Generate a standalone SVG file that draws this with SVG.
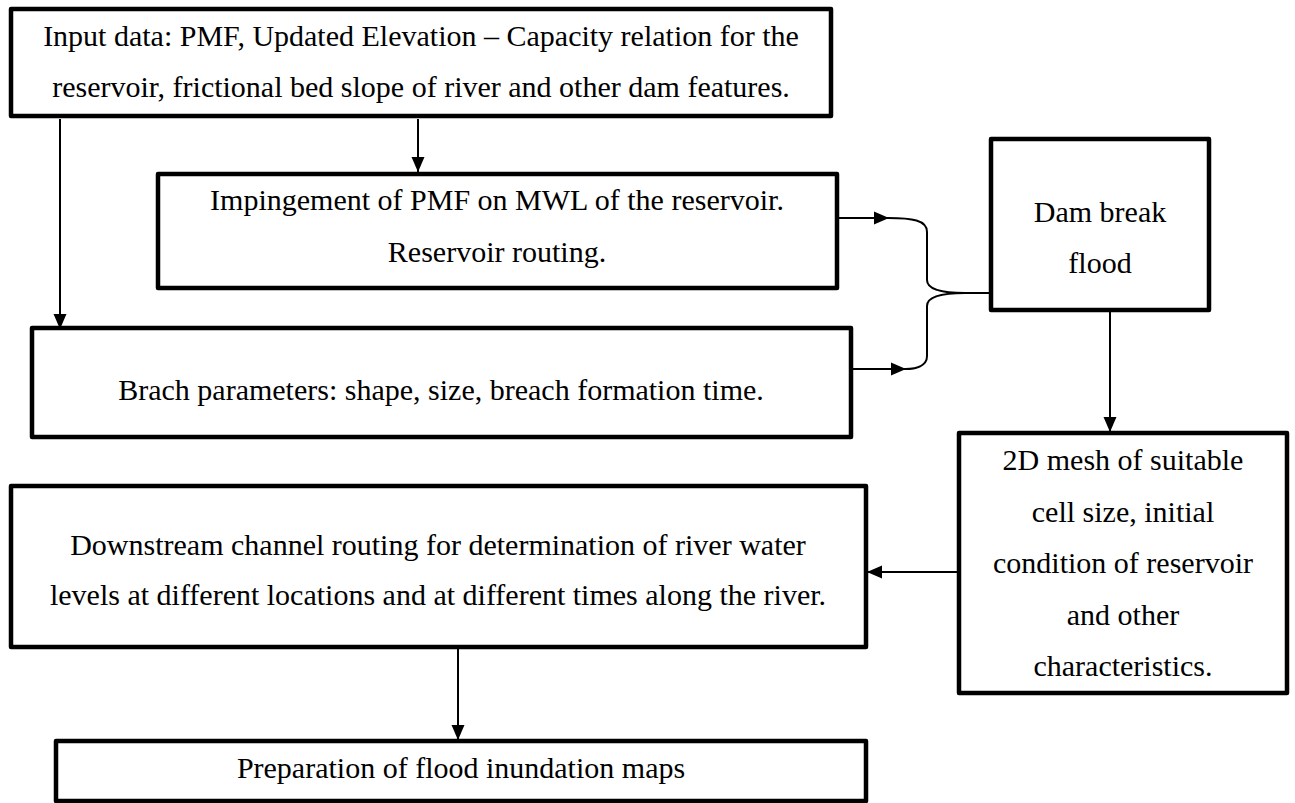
<svg xmlns="http://www.w3.org/2000/svg" width="1295" height="803" viewBox="0 0 1295 803">
<defs>
<marker id="ah" markerUnits="userSpaceOnUse" markerWidth="16" markerHeight="14" viewBox="0 0 16 14" refX="15" refY="7" orient="auto">
<path d="M0,0.5 L15,7 L0,13.5 Z" fill="#000"/>
</marker>
<style>
.box{fill:#fff;stroke:#000;stroke-width:4.5;stroke-linejoin:round}
.t{font-family:"Liberation Serif","Times New Roman",serif;font-size:30px;fill:#000;text-anchor:middle}
.c{fill:none;stroke:#000;stroke-width:2}
</style>
</defs>
<rect width="1295" height="803" fill="#fff"/>
<g id="connectors">
<line class="c" x1="60" y1="119" x2="60" y2="329" marker-end="url(#ah)"/>
<line class="c" x1="418" y1="119" x2="418" y2="172" marker-end="url(#ah)"/>
<line class="c" x1="838" y1="218" x2="889" y2="218" marker-end="url(#ah)"/>
<line class="c" x1="852" y1="369" x2="906" y2="369" marker-end="url(#ah)"/>
<path class="c" d="M888,218 C912,218 927,220 927,232 L927,280 C927,290 945,293 965,293 L990,293 M965,293 C945,293 927,296 927,306 L927,356 C927,366 916,369 905,369"/>
<line class="c" x1="1110" y1="312" x2="1110" y2="432" marker-end="url(#ah)"/>
<line class="c" x1="957" y1="572" x2="867" y2="572" marker-end="url(#ah)"/>
<line class="c" x1="458" y1="649" x2="458" y2="740" marker-end="url(#ah)"/>
</g>
<g id="input">
<rect class="box" x="11" y="9" width="820" height="107"/>
<text class="t" x="421" y="46">Input data: PMF, Updated Elevation – Capacity relation for the</text>
<text class="t" x="421" y="97">reservoir, frictional bed slope of river and other dam features.</text>
</g>
<g id="impingement">
<rect class="box" x="158" y="174" width="679" height="114"/>
<text class="t" x="497" y="210">Impingement of PMF on MWL of the reservoir.</text>
<text class="t" x="497" y="262">Reservoir routing.</text>
</g>
<g id="breach">
<rect class="box" x="32" y="328" width="819" height="109"/>
<text class="t" x="441" y="400">Brach parameters: shape, size, breach formation time.</text>
</g>
<g id="dambreak">
<rect class="box" x="991" y="139" width="218" height="171"/>
<text class="t" x="1100" y="222">Dam break</text>
<text class="t" x="1100" y="273">flood</text>
</g>
<g id="mesh">
<rect class="box" x="959" y="433" width="328" height="260"/>
<text class="t" x="1123" y="470">2D mesh of suitable</text>
<text class="t" x="1123" y="521.5">cell size, initial</text>
<text class="t" x="1123" y="573">condition of reservoir</text>
<text class="t" x="1123" y="624.5">and other</text>
<text class="t" x="1123" y="676">characteristics.</text>
</g>
<g id="downstream">
<rect class="box" x="11" y="486" width="855" height="161"/>
<text class="t" x="438" y="555">Downstream channel routing for determination of river water</text>
<text class="t" x="438" y="605">levels at different locations and at different times along the river.</text>
</g>
<g id="maps">
<rect class="box" x="56" y="741" width="810" height="60"/>
<text class="t" x="461" y="778">Preparation of flood inundation maps</text>
</g>
</svg>
